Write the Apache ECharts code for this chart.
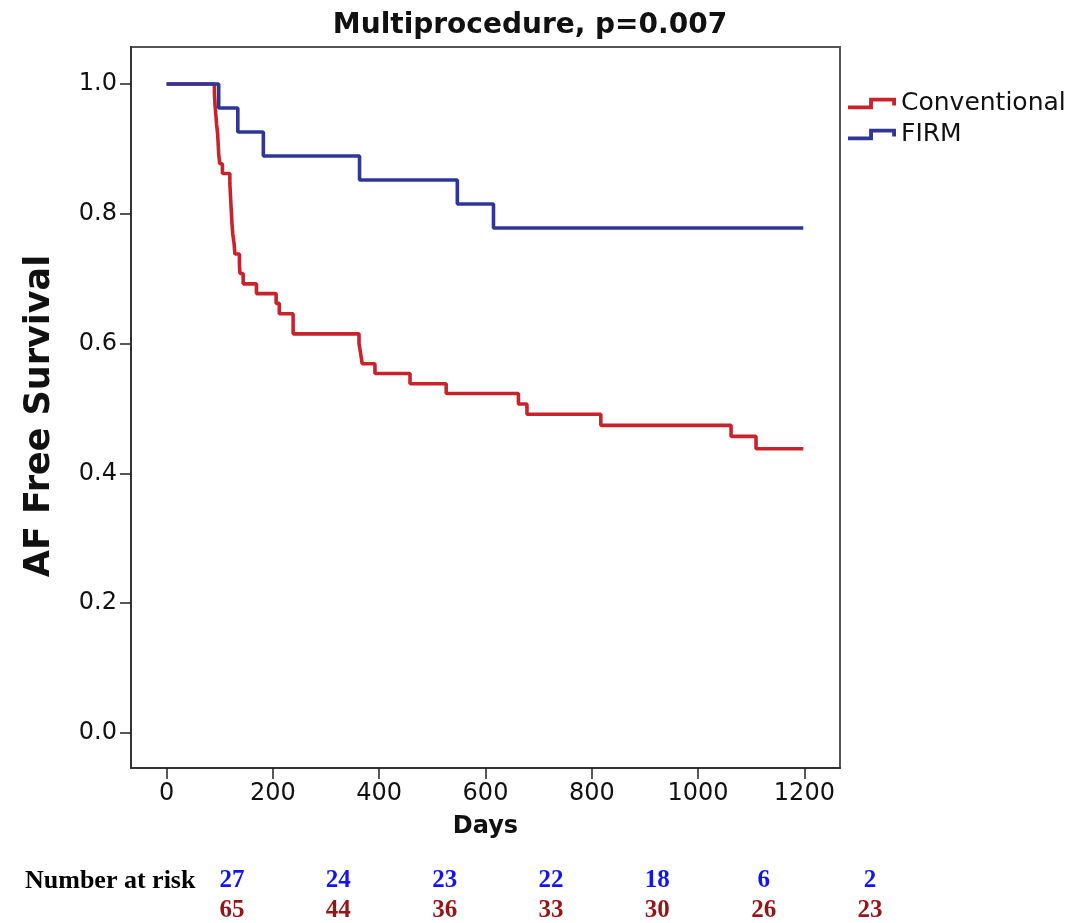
<!DOCTYPE html>
<html>
<head>
<meta charset="utf-8">
<title>Multiprocedure, p=0.007</title>
<script src="https://cdn.jsdelivr.net/npm/echarts@6/dist/echarts.min.js"></script>
<style>
  html, body { margin: 0; padding: 0; background: #fff; }
  #chart { width: 1081px; height: 923px; }
</style>
</head>
<body>
<div id="chart"></div>
<script>
// Kaplan-Meier estimates: day of each event and survival after it
const convDays = [0, 90, 91, 92.5, 94, 96, 97, 98, 100, 105, 119, 120, 121, 122, 123, 124.5, 127, 128.5, 137, 138, 144, 169, 206, 212, 238, 362, 365, 368, 392, 458, 526, 662, 678, 817, 1062, 1109, 1198];
const convSurv = [1.0, 0.985, 0.969, 0.954, 0.938, 0.923, 0.908, 0.892, 0.877, 0.862, 0.846, 0.831, 0.815, 0.800, 0.785, 0.769, 0.754, 0.738, 0.723, 0.708, 0.692, 0.677, 0.662, 0.646, 0.615, 0.600, 0.585, 0.569, 0.554, 0.538, 0.523, 0.507, 0.491, 0.474, 0.457, 0.438, 0.438];
const firmDays = [0, 98, 134, 182, 363, 547, 615, 1198];
const firmSurv = [1.0, 0.963, 0.926, 0.889, 0.852, 0.815, 0.778, 0.778];

// Numbers at risk every 200 days
const riskDays = [0, 200, 400, 600, 800, 1000, 1200];
const riskFIRM = [27, 24, 23, 22, 18, 6, 2];
const riskConv = [65, 44, 36, 33, 30, 26, 23];

// Tick values
const xTicks = [0, 200, 400, 600, 800, 1000, 1200];
const yTicks = [0, 0.2, 0.4, 0.6, 0.8, 1.0];

const RED = '#c8232b';
const BLUE = '#2f3796';
const RISK_BLUE = '#1414f0';
const RISK_RED = '#951517';
const FONT = 'DejaVu Sans';

// Step-shaped legend glyph (filled outline of a short staircase)
const stepIcon = 'path://M0,8 L22,8 L22,0 L50,0 L50,8 L46,8 L46,4 L26,4 L26,12 L0,12 Z';

const zip = (xs, ys) => xs.map((x, i) => [x, ys[i]]);

const chart = echarts.init(document.getElementById('chart'), null, { renderer: 'canvas' });

const riskLabel = color => ({
  show: true, position: 'inside', formatter: p => String(p.value[2]),
  fontFamily: 'Liberation Serif', fontWeight: 'bold', fontSize: 25, color: color, opacity: 1
});

chart.setOption({
  animation: false,
  backgroundColor: '#ffffff',
  title: {
    text: 'Multiprocedure, p=0.007',
    left: 525,
    textAlign: 'center',
    top: 7,
    textStyle: { fontFamily: FONT, fontSize: 28, fontWeight: 'bold', color: '#111' }
  },
  legend: {
    orient: 'vertical',
    left: 843,
    top: 86,
    itemWidth: 48,
    itemHeight: 12,
    itemGap: 6,
    textStyle: { fontFamily: FONT, fontSize: 25, color: '#111' },
    data: [
      { name: 'Conventional', icon: stepIcon },
      { name: 'FIRM', icon: stepIcon }
    ]
  },
  grid: [
    {
      left: 131, right: 241, top: 47, bottom: 155,
      show: true, borderColor: '#555', borderWidth: 2, backgroundColor: 'transparent'
    },
    { left: 232, right: 211, top: 881, bottom: 12 }
  ],
  xAxis: [
    {
      type: 'value', gridIndex: 0, min: -67, max: 1267,
      name: 'Days', nameLocation: 'middle', nameGap: 47,
      nameTextStyle: { fontFamily: FONT, fontSize: 24, fontWeight: 'bold', color: '#111' },
      splitLine: { show: false },
      axisLine: { show: true, onZero: false, lineStyle: { color: '#333', width: 2 } },
      axisTick: { show: true, length: 11, customValues: xTicks, lineStyle: { color: '#222', width: 1.5 } },
      axisLabel: {
        customValues: xTicks, fontFamily: FONT, fontSize: 24, color: '#111', margin: 14,
        formatter: v => String(v)
      }
    },
    { type: 'value', gridIndex: 1, min: 0, max: 1200, show: false }
  ],
  yAxis: [
    {
      type: 'value', gridIndex: 0, min: -0.054, max: 1.057,
      name: 'AF Free Survival', nameLocation: 'middle', nameGap: 74, nameRotate: 90,
      nameTextStyle: { fontFamily: FONT, fontSize: 35, fontWeight: 'bold', color: '#111', padding: [0, 17, 0, 0] },
      splitLine: { show: false },
      axisLine: { show: true, onZero: false, lineStyle: { color: '#333', width: 2 } },
      axisTick: { show: true, length: 11, customValues: yTicks, lineStyle: { color: '#222', width: 1.5 } },
      axisLabel: {
        customValues: yTicks, fontFamily: FONT, fontSize: 24, color: '#111', margin: 14,
        formatter: v => v.toFixed(1)
      }
    },
    { type: 'value', gridIndex: 1, min: 0, max: 1, show: false }
  ],
  graphic: [
    {
      type: 'text', left: 25, top: 868,
      style: { text: 'Number at risk', font: 'bold 26px "Liberation Serif"', fill: '#000' }
    }
  ],
  series: [
    {
      name: 'Conventional', type: 'line', step: 'end',
      xAxisIndex: 0, yAxisIndex: 0,
      data: zip(convDays, convSurv),
      showSymbol: false, symbol: 'none',
      color: RED,
      lineStyle: { color: RED, width: 3.6 },
      z: 2
    },
    {
      name: 'FIRM', type: 'line', step: 'end',
      xAxisIndex: 0, yAxisIndex: 0,
      data: zip(firmDays, firmSurv),
      showSymbol: false, symbol: 'none',
      color: BLUE,
      lineStyle: { color: BLUE, width: 3.6 },
      z: 3
    },
    {
      name: 'At risk FIRM', type: 'scatter',
      xAxisIndex: 1, yAxisIndex: 1,
      symbolSize: 0,
      data: riskDays.map((d, i) => [d, 1, riskFIRM[i]]),
      label: riskLabel(RISK_BLUE)
    },
    {
      name: 'At risk Conventional', type: 'scatter',
      xAxisIndex: 1, yAxisIndex: 1,
      symbolSize: 0,
      data: riskDays.map((d, i) => [d, 0, riskConv[i]]),
      label: riskLabel(RISK_RED)
    }
  ]
});
</script>
</body>
</html>
